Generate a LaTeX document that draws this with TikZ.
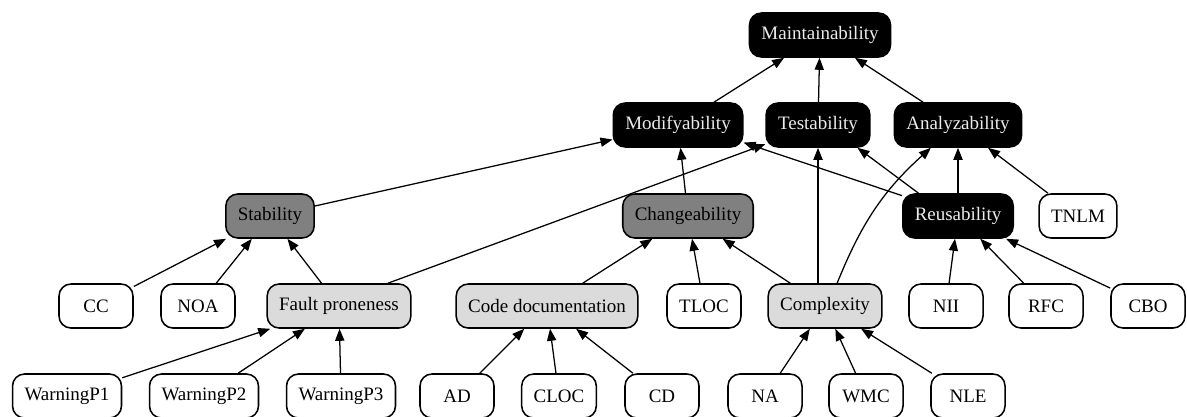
\documentclass[tikz,border=0pt]{standalone}
\usepackage{fontspec}
\setmainfont{Liberation Serif}
\usetikzlibrary{arrows.meta}

\begin{document}
\begin{tikzpicture}[x=0.025cm,y=-0.025cm,
  box/.style={draw,line width=1.1pt,rounded corners=0.3cm,minimum width=1.85cm,
    minimum height=1.1cm,inner xsep=0.3cm,font=\fontsize{13.5}{16}\selectfont},
  topbox/.style={box,fill=black,text=white!92!black},
  midbox/.style={box,fill=black!50},
  subbox/.style={box,fill=black!14},
  edge/.style={-{Triangle[length=0.3cm,width=0.23cm]},line width=0.9pt}]
\useasboundingbox (0,0) rectangle (1187,416);
% levels
\node[topbox] (mt) at (820,35) {Maintainability};
\node[topbox] (mod) at (678,125) {Modifyability};
\node[topbox] (tst) at (818,125) {Testability};
\node[topbox] (ana) at (958,125) {Analyzability};
\node[midbox] (stab) at (270,216) {Stability};
\node[midbox] (chg) at (688,216) {Changeability};
\node[topbox] (reu) at (958,216) {Reusability};
\node[box] (tnlm) at (1078,216) {TNLM};
\node[box] (cc) at (96,306) {CC};
\node[box] (noa) at (198,306) {NOA};
\node[subbox] (fp) at (339,306) {Fault proneness};
\node[subbox] (cdoc) at (547,306) {Code documentation};
\node[box] (tloc) at (704,306) {TLOC};
\node[subbox] (cx) at (825,306) {Complexity};
\node[box] (nii) at (946,306) {NII};
\node[box] (rfc) at (1046,306) {RFC};
\node[box] (cbo) at (1148,306) {CBO};
\node[box] (wp1) at (67,396) {WarningP1};
\node[box] (wp2) at (204,396) {WarningP2};
\node[box] (wp3) at (341,396) {WarningP3};
\node[box] (ad) at (457,396) {AD};
\node[box] (cloc) at (559,396) {CLOC};
\node[box] (cd) at (662,396) {CD};
\node[box] (na) at (765,396) {NA};
\node[box] (wmc) at (866,396) {WMC};
\node[box] (nle) at (968,396) {NLE};
% edges
\foreach \a/\b in {mod/mt,tst/mt,ana/mt,stab/mod,chg/mod,reu/ana,tnlm/ana,
  cc/stab,noa/stab,fp/stab,cdoc/chg,tloc/chg,cx/chg,nii/reu,rfc/reu,cbo/reu,
  wp1/fp,wp2/fp,wp3/fp,ad/cdoc,cloc/cdoc,cd/cdoc,na/cx,wmc/cx,nle/cx}
  \draw[edge] (\a)--(\b);
\draw[edge] (fp.25)--(tst.200);
\draw[edge] (reu.160)--(mod.-15);
\draw[edge] (reu.150)--(tst.-30);
\draw[edge] (tst.south |- cx.north)--(tst.south);
\draw[edge] (cx.62) to[out=68,in=222] (ana.220);
\end{tikzpicture}
\end{document}
